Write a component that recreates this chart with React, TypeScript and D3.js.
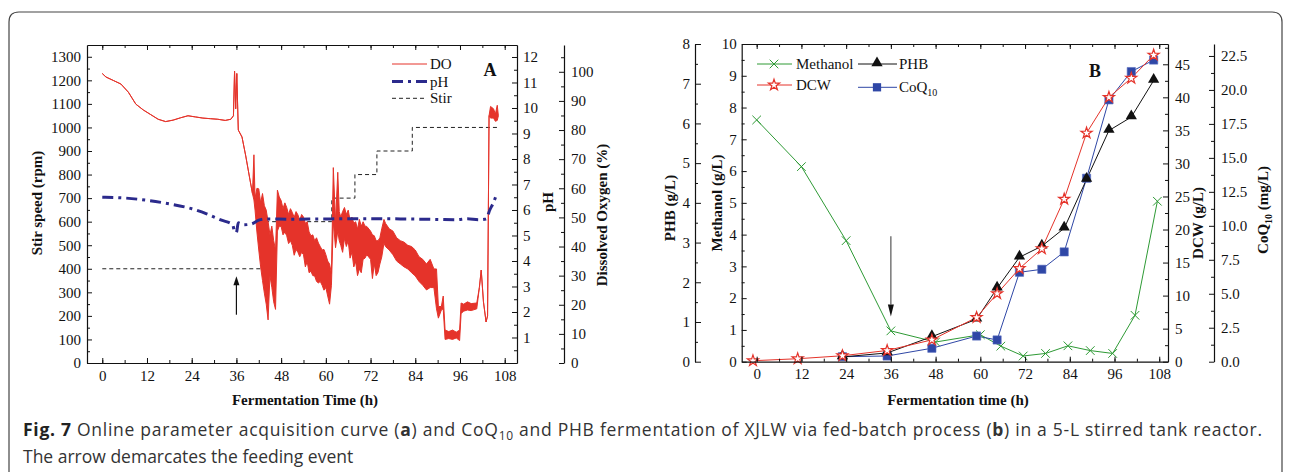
import React, { useEffect, useRef } from "react";
import * as d3 from "d3";

// ---- panel A: online data (DO drawn as a noisy band: high / low envelope, %) ----
const doTime = [0, 1, 3, 5, 7, 9, 11, 13, 15, 17, 19, 21, 23, 25, 27, 29, 31, 33, 34.5, 35.2, 35.5, 35.8, 36.1, 36.5, 37.5, 38.5, 39.5, 40.3, 40.7, 41, 41.5, 42, 42.5, 43, 43.5, 44, 44.5, 45, 45.5, 46, 46.5, 47, 47.5, 48, 48.5, 49, 49.5, 50, 50.5, 51, 51.5, 52, 52.5, 53, 53.5, 54, 54.5, 55, 55.5, 56, 56.5, 57, 57.5, 58, 58.5, 59, 59.5, 60, 60.5, 61, 61.5, 62, 62.6, 63.2, 63.6, 64, 64.5, 65, 65.5, 66, 66.5, 67, 67.5, 68, 68.5, 69, 69.5, 70, 70.5, 71, 72, 72.5, 73, 73.5, 74, 74.5, 75, 75.6, 76, 77, 78, 79, 80, 81, 82, 83, 84, 85, 86, 87, 88, 89, 89.7, 90.2, 91, 91.5, 92, 93, 94, 95, 95.9, 96.3, 97, 98, 99, 100.5, 101.2, 101.7, 102.3, 103, 103.4, 103.8, 104.2, 105, 105.5, 106, 106.3];
const doHigh = [99.4, 98.2, 97.0, 95.8, 93.0, 88.9, 86.9, 85.3, 83.7, 82.9, 83.4, 84.2, 84.9, 84.5, 84.1, 83.9, 83.7, 83.3, 83.7, 84.9, 100.2, 87.3, 99.4, 80.0, 77.6, 71.1, 63.9, 58.2, 71.5, 56.6, 60.0, 59.8, 55.0, 58.2, 54.0, 52.5, 48.5, 44.0, 47.0, 42.0, 38.8, 59.4, 57.0, 55.8, 53.0, 55.0, 53.4, 51.0, 53.0, 51.7, 50.0, 52.0, 50.9, 49.0, 51.0, 50.1, 48.0, 48.5, 45.0, 43.7, 44.0, 42.0, 43.0, 41.2, 40.0, 38.8, 39.0, 37.2, 35.0, 34.0, 30.7, 67.1, 48.5, 65.5, 52.0, 50.1, 52.0, 53.4, 51.0, 52.5, 49.0, 50.1, 48.0, 48.5, 46.0, 49.3, 47.0, 48.5, 47.0, 46.9, 45.3, 44.0, 43.7, 42.0, 42.0, 43.0, 46.1, 49.3, 48.0, 46.1, 45.3, 43.0, 42.0, 41.5, 40.4, 40.0, 38.8, 36.5, 35.6, 34.0, 35.6, 32.3, 32.3, 19.4, 19.4, 23.0, 11.3, 10.8, 11.3, 10.6, 11.3, 20.6, 20.2, 21.0, 20.4, 20.6, 25.9, 31.9, 21.0, 14.1, 16.2, 84.9, 88.1, 87.3, 85.5, 88.5, 84.9];
const doLow = [99.4, 98.2, 97.0, 95.8, 93.0, 88.9, 86.9, 85.3, 83.7, 82.9, 83.4, 84.2, 84.9, 84.5, 84.1, 83.9, 83.7, 83.3, 83.7, 84.9, 100.2, 87.3, 99.4, 80.0, 77.6, 71.1, 63.9, 58.2, 56.0, 52.5, 45.0, 38.8, 33.0, 28.3, 24.0, 20.2, 14.8, 30.0, 26.0, 21.0, 18.4, 45.3, 47.0, 46.9, 44.0, 45.0, 43.7, 41.0, 42.0, 40.4, 37.0, 39.0, 38.0, 36.5, 38.0, 37.2, 33.0, 34.8, 31.0, 31.5, 30.0, 29.9, 28.0, 27.5, 28.0, 26.7, 25.0, 25.9, 23.0, 20.2, 26.7, 48.5, 39.6, 45.3, 42.0, 40.4, 38.0, 42.8, 40.0, 42.0, 36.0, 38.0, 33.0, 34.8, 30.0, 32.3, 31.0, 35.6, 36.0, 37.2, 35.6, 29.0, 34.0, 30.0, 31.1, 34.0, 36.4, 41.2, 40.0, 38.8, 37.2, 35.0, 34.0, 33.0, 32.3, 31.0, 29.9, 28.0, 26.7, 25.1, 25.9, 25.9, 18.6, 15.4, 18.2, 18.6, 8.1, 8.4, 8.1, 8.6, 7.7, 17.0, 17.8, 18.2, 18.0, 18.6, 25.9, 31.9, 21.0, 14.1, 16.2, 84.9, 84.1, 84.1, 83.0, 83.3, 84.9];

const phTime = [0, 6, 12, 18, 24, 28, 32, 35, 35.5, 36, 36.5, 38, 40, 42, 44, 50, 60, 70, 80, 90, 95, 98, 101, 103, 104, 105, 106];
const phValue = [6.5, 6.47, 6.38, 6.24, 6.05, 5.85, 5.6, 5.42, 5.15, 5.12, 5.5, 5.42, 5.45, 5.6, 5.65, 5.64, 5.65, 5.66, 5.65, 5.63, 5.62, 5.66, 5.62, 5.65, 6.0, 6.3, 6.7];

const stirTime = [0, 43, 61.6, 67.8, 73.7, 83.2, 106];
const stirSpeed = [400, 600, 700, 800, 900, 1000, 1000];

// ---- panel B: offline samples ----
const methTime = [0, 12, 24, 36, 48, 60, 65.5, 71.5, 77.5, 83.5, 89.5, 95.5, 101.5, 107.5];
const methanol = [7.61, 6.14, 3.81, 0.97, 0.62, 0.85, 0.49, 0.18, 0.26, 0.5, 0.35, 0.26, 1.46, 5.05];
const dcwTime = [-1, 11, 23, 35, 47, 59, 64.5, 70.5, 76.5, 82.5, 88.5, 94.5, 100.5, 106.5];
const dcw = [0.15, 0.45, 0.9, 1.7, 3.3, 6.7, 10.3, 14.1, 17.1, 24.6, 34.6, 40.0, 42.9, 46.4];
const phbTime = [23, 35, 47, 59, 64.5, 70.5, 76.5, 82.5, 88.5, 94.5, 100.5, 106.5];
const phb = [0.12, 0.22, 0.63, 1.07, 1.85, 2.63, 2.91, 3.36, 4.59, 5.82, 6.16, 7.08];
const coqTime = [23, 35, 47, 59, 64.5, 70.5, 76.5, 82.5, 88.5, 94.5, 100.5, 106.5];
const coq = [0.37, 0.42, 0.99, 1.89, 1.6, 6.58, 6.8, 8.08, 13.5, 19.27, 21.35, 22.2];

const timeTicks = d3.range(0, 109, 12);
const timeMinor = d3.range(0, 111, 6);

const SERIF = "'Liberation Serif', 'Times New Roman', serif";
const RED = "#e5332a";
const NAVY = "#2b2a8c";
const GREEN = "#2e9a35";
const BLUE = "#2f47a6";

function Axis({ kind, scale, at, ticks, minor, fmt, size = 5, pad = 4, noLabels = false }: any) {
  const ref = useRef<SVGGElement>(null);
  useEffect(() => {
    const g = d3.select(ref.current);
    g.selectAll("*").remove();
    const make: any =
      kind === "left" ? d3.axisLeft : kind === "right" ? d3.axisRight : kind === "top" ? d3.axisTop : d3.axisBottom;
    if (minor) {
      g.append("g")
        .call(make(scale).tickValues(minor).tickFormat(() => "").tickSize(-3).tickSizeOuter(0))
        .call((s: any) => s.select(".domain").remove());
    }
    g.append("g").call(
      make(scale)
        .tickValues(ticks)
        .tickFormat(noLabels ? () => "" : fmt || ((d: number) => String(d)))
        .tickSize(-size)
        .tickPadding(pad)
        .tickSizeOuter(0)
    );
    g.selectAll("g").attr("font-family", SERIF).attr("font-size", 15);
    g.selectAll("text").attr("fill", "#111");
    g.selectAll("line").attr("stroke", "#111");
    g.selectAll("path").attr("stroke", "#111").attr("stroke-width", 1.2);
  });
  const tr = kind === "left" || kind === "right" ? `translate(${at},0)` : `translate(0,${at})`;
  return <g ref={ref} transform={tr} />;
}

export default function App() {
  // panel A scales
  const xA = d3.scaleLinear().domain([-4.1, 111.3]).range([87, 517]);
  const yStir = d3.scaleLinear().domain([0, 1350]).range([363, 45]);
  const yPH = d3.scaleLinear().domain([0, 12.47]).range([363, 45]);
  const yDO = d3.scaleLinear().domain([0, 109.2]).range([363, 45]);

  // panel B scales
  const xB = d3.scaleLinear().domain([-4.02, 110.35]).range([741.7, 1168]);
  const yMeth = d3.scaleLinear().domain([0, 10]).range([361.7, 44]);
  const yPHB = d3.scaleLinear().domain([0, 8]).range([361.7, 44]);
  const yDCW = d3.scaleLinear().domain([0, 48.07]).range([361.7, 44]);
  const yCoQ = d3.scaleLinear().domain([0, 23.38]).range([361.7, 44]);

  const doIdx = d3.range(doTime.length);
  const doArea = d3
    .area<number>()
    .x((i) => xA(doTime[i]))
    .y0((i) => yDO(doLow[i]))
    .y1((i) => yDO(doHigh[i]));
  const doHi = d3.line<number>().x((i) => xA(doTime[i])).y((i) => yDO(doHigh[i]));
  const doLo = d3.line<number>().x((i) => xA(doTime[i])).y((i) => yDO(doLow[i]));
  const phLine = d3
    .line<number>()
    .x((i) => xA(phTime[i]))
    .y((i) => yPH(phValue[i]))
    .curve(d3.curveMonotoneX);
  const stirLine = d3
    .line<number>()
    .x((i) => xA(stirTime[i]))
    .y((i) => yStir(stirSpeed[i]))
    .curve(d3.curveStepAfter);

  const lineB = (t: number[], v: number[], y: any) =>
    d3.line<number>().x((i) => xB(t[i])).y((i) => y(v[i]))(d3.range(t.length)) || "";

  const star = d3.symbol().type(d3.symbolStar).size(38)() || "";
  const tri = d3.symbol().type(d3.symbolTriangle).size(55)() || "";
  const sq = d3.symbol().type(d3.symbolSquare).size(68)() || "";
  const cross = d3.symbol().type(d3.symbolTimes).size(50)() || "";

  const arrowAx = xA(36);
  const arrowBx = xB(36);

  return (
    <svg width={1290} height={476} style={{ position: "absolute", left: 0, top: 0, background: "#fff" }}>
      {/* outer figure frame */}
      <path d="M9,472 V22 Q9,12 19,12 H1272 Q1282,12 1282,22 V472" fill="none" stroke="#444" strokeWidth={1.2} />

      {/* ===== Panel A ===== */}
      <path d={stirLine(d3.range(stirTime.length)) || ""} fill="none" stroke="#222" strokeWidth={1} strokeDasharray="4,3" />
      <path d={doArea(doIdx) || ""} fill={RED} stroke="none" />
      <path d={doHi(doIdx) || ""} fill="none" stroke={RED} strokeWidth={1} />
      <path d={doLo(doIdx) || ""} fill="none" stroke={RED} strokeWidth={1} />
      <path d={phLine(d3.range(phTime.length)) || ""} fill="none" stroke={NAVY} strokeWidth={3} strokeDasharray="11,5,3,5" />

      <line x1={arrowAx} x2={arrowAx} y1={yStir(205)} y2={yStir(340)} stroke="#111" strokeWidth={1.2} />
      <path d={`M${arrowAx},${yStir(368)} L${arrowAx - 3},${yStir(330)} L${arrowAx + 3},${yStir(330)} Z`} fill="#111" />

      <Axis kind="left" scale={yStir} at={87} ticks={d3.range(0, 1301, 100)} minor={d3.range(50, 1350, 100)} pad={6} />
      <Axis kind="right" scale={yPH} at={517} ticks={d3.range(1, 13)} minor={d3.range(0.5, 12.5, 1)} pad={6} />
      <Axis kind="right" scale={yDO} at={564} ticks={d3.range(0, 101, 10)} minor={d3.range(5, 109, 10)} pad={7} />
      <Axis kind="bottom" scale={xA} at={363} ticks={timeTicks} minor={timeMinor} pad={7} />
      <Axis kind="top" scale={xA} at={45} ticks={timeTicks} minor={timeMinor} noLabels />

      {/* legend A */}
      <g fontFamily={SERIF} fontSize={15} fill="#111">
        <line x1={392} x2={427} y1={64} y2={64} stroke={RED} strokeWidth={1} />
        <text x={430} y={69}>DO</text>
        <line x1={392} x2={427} y1={81.5} y2={81.5} stroke={NAVY} strokeWidth={3} strokeDasharray="11,5,3,5" />
        <text x={430} y={86.5}>pH</text>
        <line x1={392} x2={427} y1={98.3} y2={98.3} stroke="#222" strokeWidth={1} strokeDasharray="4,3" />
        <text x={430} y={103}>Stir</text>
        <text x={490} y={76} fontWeight="bold" fontSize={18} textAnchor="middle">A</text>
      </g>

      <g fontFamily={SERIF} fontSize={15} fontWeight="bold" fill="#111" textAnchor="middle">
        <text transform="translate(42,203) rotate(-90)">Stir speed (rpm)</text>
        <text transform="translate(553,202) rotate(-90)">pH</text>
        <text transform="translate(607,215) rotate(-90)">Dissolved Oxygen (%)</text>
        <text x={305} y={405}>Fermentation Time (h)</text>
      </g>

      {/* ===== Panel B ===== */}
      <path d={lineB(methTime, methanol, yMeth)} fill="none" stroke={GREEN} strokeWidth={1} />
      <path d={lineB(coqTime, coq, yCoQ)} fill="none" stroke={BLUE} strokeWidth={1} />
      <path d={lineB(phbTime, phb, yPHB)} fill="none" stroke="#111" strokeWidth={1} />
      <path d={lineB(dcwTime, dcw, yDCW)} fill="none" stroke={RED} strokeWidth={1} />

      {methTime.map((t, i) => (
        <path key={"m" + i} d={cross} transform={`translate(${xB(t)},${yMeth(methanol[i])})`} fill="none" stroke={GREEN} strokeWidth={1} />
      ))}
      {coqTime.map((t, i) => (
        <path key={"c" + i} d={sq} transform={`translate(${xB(t)},${yCoQ(coq[i])})`} fill={BLUE} stroke="#5b6fc0" strokeWidth={0.6} />
      ))}
      {phbTime.map((t, i) => (
        <path key={"p" + i} d={tri} transform={`translate(${xB(t)},${yPHB(phb[i]) - 1})`} fill="#111" />
      ))}
      {dcwTime.map((t, i) => (
        <path key={"d" + i} d={star} transform={`translate(${xB(t)},${yDCW(dcw[i])})`} fill="#fff" stroke={RED} strokeWidth={1.2} />
      ))}

      <line x1={arrowBx} x2={arrowBx} y1={yMeth(3.95)} y2={yMeth(1.8)} stroke="#555" strokeWidth={1.2} />
      <path d={`M${arrowBx},${yMeth(1.42)} L${arrowBx - 3},${yMeth(1.8)} L${arrowBx + 3},${yMeth(1.8)} Z`} fill="#111" />

      <Axis kind="left" scale={yPHB} at={695} ticks={d3.range(0, 9)} minor={d3.range(0.5, 8, 1)} size={6} pad={5} />
      <Axis kind="left" scale={yMeth} at={741.7} ticks={d3.range(0, 11)} minor={d3.range(0.5, 10, 1)} pad={5} />
      <Axis kind="right" scale={yDCW} at={1168} ticks={d3.range(0, 46, 5)} minor={d3.range(2.5, 48, 5)} pad={7} />
      <Axis kind="right" scale={yCoQ} at={1214} ticks={d3.range(0, 23, 2.5)} minor={d3.range(1.25, 23.4, 2.5)} pad={7} fmt={d3.format(".1f")} />
      <Axis kind="bottom" scale={xB} at={361.7} ticks={timeTicks} minor={timeMinor} pad={7} />
      <Axis kind="top" scale={xB} at={44} ticks={timeTicks} minor={timeMinor} noLabels />

      {/* legend B */}
      <g fontFamily={SERIF} fontSize={15} fill="#111">
        <line x1={757} x2={792} y1={64} y2={64} stroke={GREEN} strokeWidth={1} />
        <path d={cross} transform="translate(774,64)" fill="none" stroke={GREEN} />
        <text x={796} y={69}>Methanol</text>
        <line x1={858} x2={897} y1={64} y2={64} stroke="#111" strokeWidth={1} />
        <path d={tri} transform="translate(877,63)" fill="#111" />
        <text x={899} y={69}>PHB</text>
        <line x1={757} x2={792} y1={85} y2={85} stroke={RED} strokeWidth={1} />
        <path d={star} transform="translate(774,85)" fill="#fff" stroke={RED} strokeWidth={1.2} />
        <text x={796} y={90}>DCW</text>
        <line x1={858} x2={897} y1={87.3} y2={87.3} stroke={BLUE} strokeWidth={1} />
        <path d={sq} transform="translate(877,87.3)" fill={BLUE} />
        <text x={899} y={92}>
          CoQ<tspan fontSize={10} dy={4}>10</tspan>
        </text>
        <text x={1095} y={77} fontWeight="bold" fontSize={18} textAnchor="middle">B</text>
      </g>

      <g fontFamily={SERIF} fontSize={15} fontWeight="bold" fill="#111" textAnchor="middle">
        <text transform="translate(675,208) rotate(-90)">PHB (g/L)</text>
        <text transform="translate(722,203) rotate(-90)">Methanol (g/L)</text>
        <text transform="translate(1203,223) rotate(-90)">DCW (g/L)</text>
        <text transform="translate(1268,210) rotate(-90)">
          CoQ<tspan fontSize={10} dy={4}>10</tspan>
          <tspan dy={-4}> (mg/L)</tspan>
        </text>
        <text x={958} y={405}>Fermentation time (h)</text>
      </g>

      {/* caption */}
      <g fontFamily="'Open Sans', 'Noto Sans', sans-serif" fill="#333">
        <text x={23} y={436} fontSize={17.5} textLength={1239} lengthAdjust="spacing">
          <tspan fontWeight="bold" fill="#222">Fig. 7</tspan>
          <tspan> Online parameter acquisition curve (</tspan>
          <tspan fontWeight="bold">a</tspan>
          <tspan>) and CoQ</tspan>
          <tspan fontSize={12} dy={4}>10</tspan>
          <tspan dy={-4}> and PHB fermentation of XJLW via fed-batch process (</tspan>
          <tspan fontWeight="bold">b</tspan>
          <tspan>) in a 5-L stirred tank reactor.</tspan>
        </text>
        <text x={23} y={463} fontSize={17.5}>The arrow demarcates the feeding event</text>
      </g>
    </svg>
  );
}
